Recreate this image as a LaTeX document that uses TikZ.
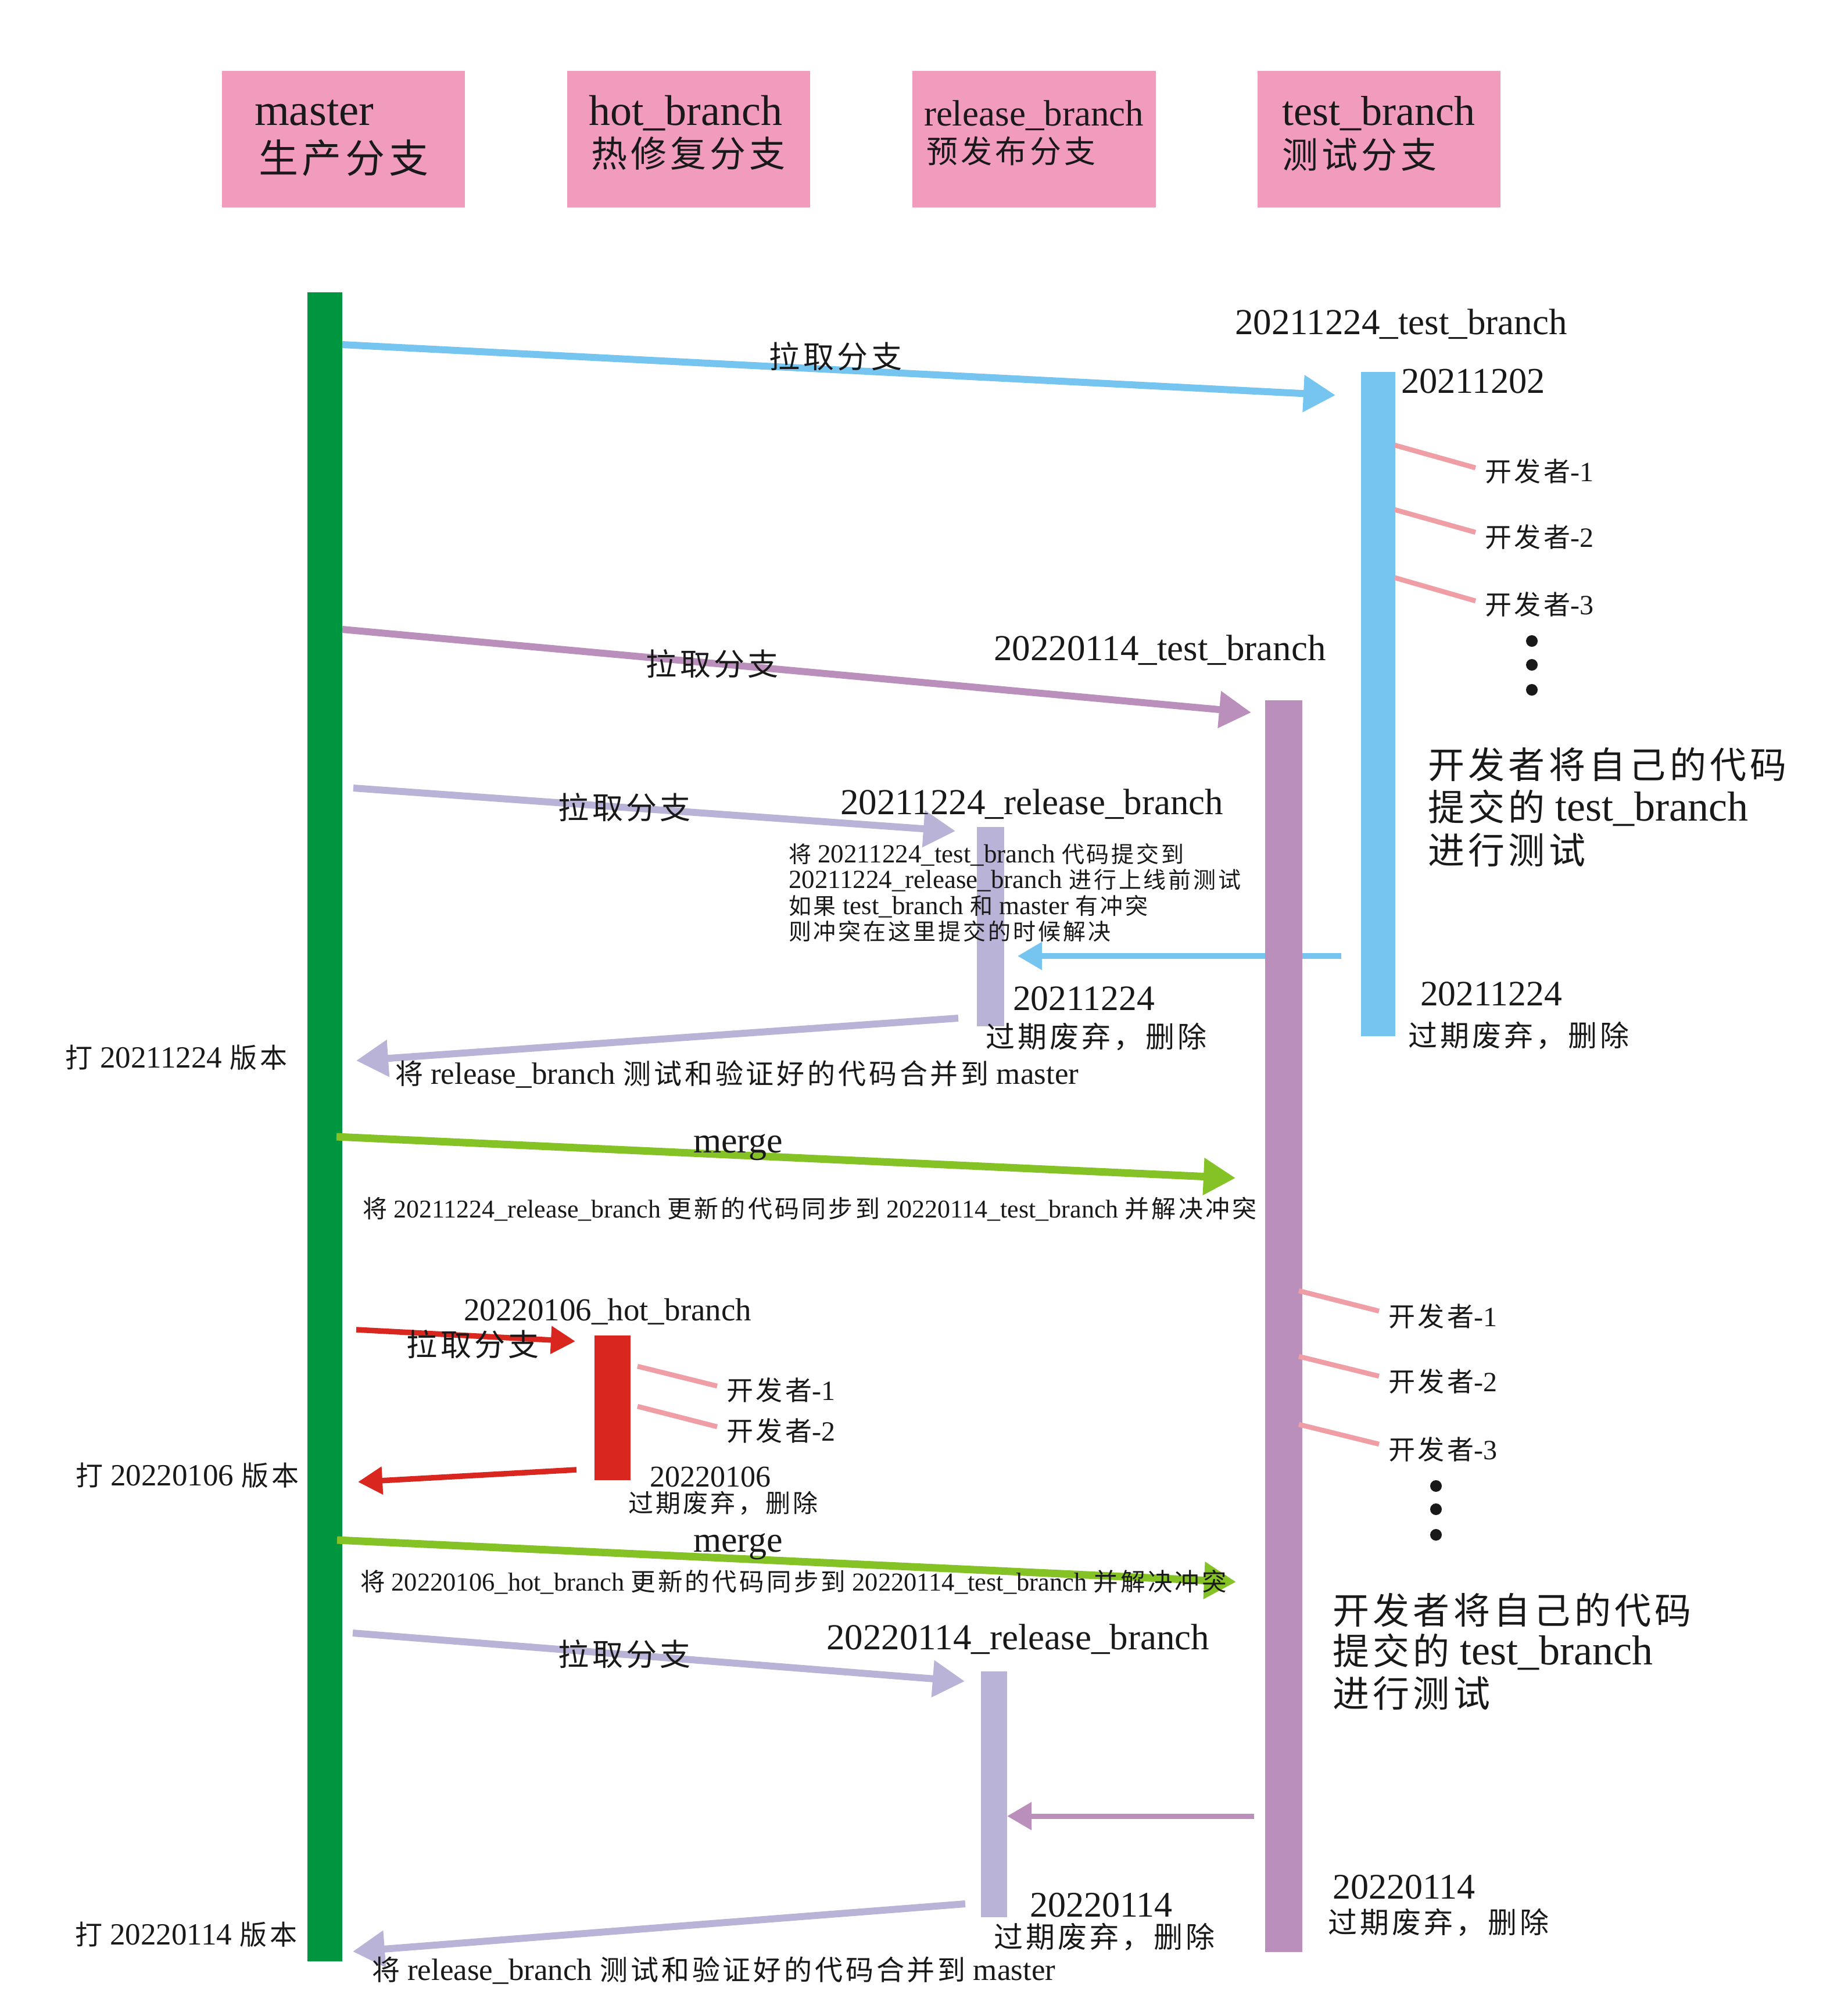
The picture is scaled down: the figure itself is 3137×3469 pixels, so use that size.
\documentclass[tikz,border=0pt]{standalone}
\usepackage{fontspec}
\setmainfont{Liberation Serif}
\newfontfamily\cjk[LetterSpace=10]{Noto Sans CJK SC}
\usetikzlibrary{arrows.meta}
\newdimen\pxu \pxu=0.28453pt
\newdimen\fsa \newdimen\fsb
\newcommand\fpx[1]{\fsa=#1\pxu\fsb=1.2\fsa\fontsize{\the\fsa}{\the\fsb}\selectfont}
\newcommand\zh[2]{{\fpx{#1}\cjk #2}}
\definecolor{cgreen}{RGB}{0,150,64}
\definecolor{cblue}{RGB}{118,196,240}
\definecolor{cpurple}{RGB}{186,143,188}
\definecolor{clav}{RGB}{185,180,215}
\definecolor{cred}{RGB}{217,38,30}
\definecolor{cmerge}{RGB}{132,194,38}
\definecolor{cdev}{RGB}{240,158,165}
\definecolor{cpink}{RGB}{241,155,189}
\tikzset{
  bar/.style={rectangle, inner sep=0pt, outer sep=0pt, draw=none},
  txt/.style={inner sep=0pt, outer sep=0pt, text=black!90},
  hdr/.style={rectangle, fill=cpink, draw=none, inner sep=0pt, outer sep=0pt, minimum width=4.18cm, minimum height=2.35cm},
  arr/.style={line width=0.12cm, -{Triangle[length=0.55cm,width=0.61cm]}},
  sarr/.style={line width=0.095cm, -{Triangle[length=0.42cm,width=0.46cm]}},
  dev/.style={line width=0.085cm, draw=cdev},
  dot/.style={circle, fill=black!90, draw=none, inner sep=0pt, minimum size=0.2cm},
}
\begin{document}
\begin{tikzpicture}[x=0.01cm,y=-0.01cm]
\fill[white] (0,0) rectangle (3137,3469);
\useasboundingbox (0,0) rectangle (3137,3469);

% header boxes
\node[hdr] (hb1) at (591,239.5) {};
\node[hdr] (hb2) at (1185,239.5) {};
\node[hdr] (hb3) at (1779.5,239.5) {};
\node[hdr] (hb4) at (2373,239.5) {};
\node[txt, anchor=base west, font={\fpx{77}}] (hm1) at (438,215) {master};
\node[txt, anchor=west, font={\fpx{68}\cjk}] (hm2) at (445,272) {生产分支};
\node[txt, anchor=base west, font={\fpx{74}}] (hh1) at (1013,215) {hot\_branch};
\node[txt, anchor=west, font={\fpx{62}\cjk}] (hh2) at (1017,264) {热修复分支};
\node[txt, anchor=base west, font={\fpx{63}}] (hr1) at (1590,216) {release\_branch};
\node[txt, anchor=west, font={\fpx{54}\cjk}] (hr2) at (1594,260) {预发布分支};
\node[txt, anchor=base west, font={\fpx{72}}] (ht1) at (2206,215) {test\_branch};
\node[txt, anchor=west, font={\fpx{62}\cjk}] (ht2) at (2206,266) {测试分支};

% bars (purple bar drawn later)
\node[bar, fill=cgreen, minimum width=0.6cm, minimum height=28.7cm] (master) at (559,1939) {};
\node[bar, fill=cblue, minimum width=0.59cm, minimum height=11.43cm] (test1) at (2371,1211.5) {};
\node[bar, fill=clav, minimum width=0.47cm, minimum height=3.43cm] (rel1) at (1704.5,1594.5) {};
\node[bar, fill=cred, minimum width=0.62cm, minimum height=2.49cm] (hot) at (1054,2422.5) {};
\node[bar, fill=clav, minimum width=0.45cm, minimum height=4.23cm] (rel2) at (1710.5,3087.5) {};

% arrow end points
\coordinate (a1s) at (589,593);   \coordinate (a1e) at (2298,680);
\coordinate (a2s) at (589,1083);  \coordinate (a2e) at (2153,1226);
\coordinate (a3s) at (608,1356);  \coordinate (a3e) at (1644,1430);
\coordinate (a4s) at (2308,1645); \coordinate (a4e) at (1751,1645);
\coordinate (a5s) at (1649,1752); \coordinate (a5e) at (613,1825);
\coordinate (a6s) at (579,1956);  \coordinate (a6e) at (2126,2027);
\coordinate (a7s) at (613,2288);  \coordinate (a7e) at (990,2308);
\coordinate (a8s) at (992,2529);  \coordinate (a8e) at (616,2550);
\coordinate (a9s) at (580,2650);  \coordinate (a9e) at (2127,2722);
\coordinate (a10s) at (607,2810); \coordinate (a10e) at (1660,2893);
\coordinate (a11s) at (2158,3125);\coordinate (a11e) at (1733,3125);
\coordinate (a12s) at (1661,3276);\coordinate (a12e) at (607,3358);

\draw[arr, cblue] (a1s) -- (a1e);
\draw[arr, cpurple] (a2s) -- (a2e);
\draw[arr, clav] (a3s) -- (a3e);
\draw[sarr, cblue] (a4s) -- (a4e);
\draw[arr, clav] (a5s) -- (a5e);
\draw[arr, cmerge, line width=0.13cm] (a6s) -- (a6e);
\draw[sarr, cred] (a7s) -- (a7e);
\draw[sarr, cred] (a8s) -- (a8e);
\draw[arr, cmerge, line width=0.13cm] (a9s) -- (a9e);
\draw[arr, clav] (a10s) -- (a10e);
\draw[sarr, cpurple, line width=0.09cm] (a11s) -- (a11e);
\draw[arr, clav] (a12s) -- (a12e);

\node[bar, fill=cpurple, minimum width=0.64cm, minimum height=21.52cm] (test2) at (2209,2282) {};

% developer lines
\coordinate (t1a) at (2400,766); \coordinate (t1b) at (2539,805);
\coordinate (t2a) at (2400,877); \coordinate (t2b) at (2539,916);
\coordinate (t3a) at (2400,994); \coordinate (t3b) at (2539,1034);
\coordinate (h1a) at (1097,2351); \coordinate (h1b) at (1234,2385);
\coordinate (h2a) at (1097,2420); \coordinate (h2b) at (1234,2455);
\coordinate (p1a) at (2235,2221); \coordinate (p1b) at (2373,2256);
\coordinate (p2a) at (2235,2334); \coordinate (p2b) at (2373,2368);
\coordinate (p3a) at (2235,2451); \coordinate (p3b) at (2373,2485);
\draw[dev] (t1a) -- (t1b);
\draw[dev] (t2a) -- (t2b);
\draw[dev] (t3a) -- (t3b);
\draw[dev] (h1a) -- (h1b);
\draw[dev] (h2a) -- (h2b);
\draw[dev] (p1a) -- (p1b);
\draw[dev] (p2a) -- (p2b);
\draw[dev] (p3a) -- (p3b);

\node[txt, anchor=west, font={\fpx{48}}] (td1) at (2555,811) {\zh{46}{开发者}-1};
\node[txt, anchor=west, font={\fpx{48}}] (td2) at (2555,924) {\zh{46}{开发者}-2};
\node[txt, anchor=west, font={\fpx{48}}] (td3) at (2555,1040) {\zh{46}{开发者}-3};
\node[txt, anchor=west, font={\fpx{48}}] (hd1) at (1250,2392) {\zh{46}{开发者}-1};
\node[txt, anchor=west, font={\fpx{48}}] (hd2) at (1250,2462) {\zh{46}{开发者}-2};
\node[txt, anchor=west, font={\fpx{48}}] (pd1) at (2389,2265) {\zh{46}{开发者}-1};
\node[txt, anchor=west, font={\fpx{48}}] (pd2) at (2389,2377) {\zh{46}{开发者}-2};
\node[txt, anchor=west, font={\fpx{48}}] (pd3) at (2389,2494) {\zh{46}{开发者}-3};

% dots
\node[dot] (d1) at (2636,1103) {};
\node[dot] (d2) at (2636,1144) {};
\node[dot] (d3) at (2636,1187) {};
\node[dot] (d4) at (2471,2557) {};
\node[dot] (d5) at (2471,2597) {};
\node[dot] (d6) at (2471,2641) {};

% pull labels
\node[txt, font={\fpx{53}\cjk}] (l1) at (1438,613) {拉取分支};
\node[txt, font={\fpx{53}\cjk}] (l2) at (1226,1142) {拉取分支};
\node[txt, font={\fpx{53}\cjk}] (l3) at (1075,1389) {拉取分支};
\node[txt, font={\fpx{53}\cjk}] (l4) at (814,2313) {拉取分支};
\node[txt, font={\fpx{53}\cjk}] (l5) at (1075,2846) {拉取分支};

% branch names
\node[txt, anchor=base west, font={\fpx{63}}] (n1) at (2125,575) {20211224\_test\_branch};
\node[txt, anchor=base west, font={\fpx{62.5}}] (n1d) at (2411,676) {20211202};
\node[txt, anchor=base west, font={\fpx{63}}] (n2) at (1710,1136) {20220114\_test\_branch};
\node[txt, anchor=base west, font={\fpx{63}}] (n3) at (1446,1401) {20211224\_release\_branch};
\node[txt, anchor=base west, font={\fpx{55}}] (n4) at (798,2272) {20220106\_hot\_branch};
\node[txt, anchor=base west, font={\fpx{63}}] (n5) at (1422,2838) {20220114\_release\_branch};

% big notes
\node[txt, anchor=base west, font={\fpx{63}\cjk}] (b1a) at (2457,1339) {开发者将自己的代码};
\node[txt, anchor=base west, font={\fpx{72}}] (b1b) at (2457,1412) {\zh{63}{提交的} test\_branch};
\node[txt, anchor=base west, font={\fpx{63}\cjk}] (b1c) at (2457,1486) {进行测试};
\node[txt, anchor=base west, font={\fpx{63}\cjk}] (b2a) at (2293,2794) {开发者将自己的代码};
\node[txt, anchor=base west, font={\fpx{72}}] (b2b) at (2293,2864) {\zh{63}{提交的} test\_branch};
\node[txt, anchor=base west, font={\fpx{63}\cjk}] (b2c) at (2293,2937) {进行测试};

% small note
\node[txt, anchor=base west, font={\fpx{45}}] (s1) at (1357,1484) {\zh{39}{将} 20211224\_test\_branch \zh{39}{代码提交到}};
\node[txt, anchor=base west, font={\fpx{45}}] (s2) at (1357,1528) {20211224\_release\_branch \zh{39}{进行上线前测试}};
\node[txt, anchor=base west, font={\fpx{45}}] (s3) at (1357,1573) {\zh{39}{如果} test\_branch \zh{39}{和} master \zh{39}{有冲突}};
\node[txt, anchor=base west, font={\fpx{45}}] (s4) at (1357,1617) {\zh{39}{则冲突在这里提交的时候解决}};

% merge texts
\node[txt, anchor=base west, font={\fpx{53}}] (m1) at (680,1865) {\zh{48}{将} release\_branch \zh{48}{测试和验证好的代码合并到} master};
\node[txt, anchor=base west, font={\fpx{53}}] (m2) at (640,3407) {\zh{48}{将} release\_branch \zh{48}{测试和验证好的代码合并到} master};
\node[txt, anchor=base west, font={\fpx{53}}] (v1) at (112,1837) {\zh{47}{打} 20211224 \zh{47}{版本}};
\node[txt, anchor=base west, font={\fpx{53}}] (v2) at (130,2556) {\zh{47}{打} 20220106 \zh{47}{版本}};
\node[txt, anchor=base west, font={\fpx{53}}] (v3) at (129,3346) {\zh{47}{打} 20220114 \zh{47}{版本}};
\node[txt, anchor=base west, font={\fpx{44}}] (y1) at (624,2095) {\zh{42}{将} 20211224\_release\_branch \zh{42}{更新的代码同步到} 20220114\_test\_branch \zh{42}{并解决冲突}};
\node[txt, anchor=base west, font={\fpx{44.5}}] (y2) at (620,2737) {\zh{42.5}{将} 20220106\_hot\_branch \zh{42.5}{更新的代码同步到} 20220114\_test\_branch \zh{42.5}{并解决冲突}};
\node[txt, anchor=base, font={\fpx{62}}] (g1) at (1270,1983) {merge};
\node[txt, anchor=base, font={\fpx{62}}] (g2) at (1270,2670) {merge};

% end labels
\node[txt, anchor=base west, font={\fpx{61.5}}] (e1a) at (1743,1738) {20211224};
\node[txt, anchor=west, font={\fpx{50}\cjk}] (e1b) at (1696,1784) {过期废弃，删除};
\node[txt, anchor=base west, font={\fpx{61.5}}] (e2a) at (2444,1730) {20211224};
\node[txt, anchor=west, font={\fpx{50}\cjk}] (e2b) at (2423,1782) {过期废弃，删除};
\node[txt, anchor=base west, font={\fpx{52}}] (e3a) at (1118,2558) {20220106};
\node[txt, anchor=west, font={\fpx{43}\cjk}] (e3b) at (1081,2587) {过期废弃，删除};
\node[txt, anchor=base west, font={\fpx{62}}] (e4a) at (1772,3298) {20220114};
\node[txt, anchor=west, font={\fpx{50}\cjk}] (e4b) at (1710,3333) {过期废弃，删除};
\node[txt, anchor=base west, font={\fpx{62}}] (e5a) at (2293,3267) {20220114};
\node[txt, anchor=west, font={\fpx{50}\cjk}] (e5b) at (2285,3308) {过期废弃，删除};
\end{tikzpicture}
\end{document}
